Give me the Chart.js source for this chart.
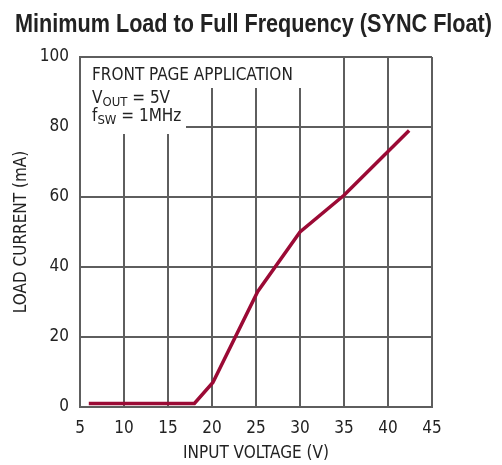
<!DOCTYPE html>
<html>
<head>
<meta charset="utf-8">
<script src="https://cdn.jsdelivr.net/npm/chart.js@4.4.0/dist/chart.umd.min.js"></script>
<style>
  html, body { margin: 0; padding: 0; background: #fff; }
  #wrap { width: 502px; height: 465px; }
</style>
</head>
<body>
<div id="wrap"><canvas id="myChart" width="502" height="465"></canvas></div>
<script>
var FONT = '"DejaVu Sans Condensed", "Liberation Sans", sans-serif';

// input voltage (V) and minimum load current (mA)
var inputVoltage = [6, 18, 20.1, 25.2, 30, 35, 40, 42.4];
var loadCurrent = [1, 1, 7, 33, 50, 60.5, 73, 79];

var xTicks = [5, 10, 15, 20, 25, 30, 35, 40, 45];
var yTicks = [0, 20, 40, 60, 80, 100];

var titleText = "Minimum Load to Full Frequency (SYNC Float)";
var xTitle = "INPUT VOLTAGE (V)";
var yTitle = "LOAD CURRENT (mA)";

var points = [];
for (var i = 0; i < inputVoltage.length; i++) {
	points.push({x: inputVoltage[i], y: loadCurrent[i]});
}

// title above plot + conditions box in the upper left corner
var extras = {
	id: "extras",
	afterDraw: function(chart) {
		var ctx = chart.ctx;
		var area = chart.chartArea;
		ctx.save();
		ctx.fillStyle = "#222";
		ctx.textAlign = "left";
		ctx.textBaseline = "alphabetic";
		// condensed bold title: squeeze Liberation Sans Bold to width
		ctx.font = "bold 25px 'Liberation Sans', sans-serif";
		var w = ctx.measureText(titleText).width;
		var sx = 477 / w;
		ctx.save();
		ctx.translate(15, 32);
		ctx.scale(sx, 1);
		ctx.fillText(titleText, 0, 0);
		ctx.restore();

		// white boxes hide the grid behind the notes
		ctx.fillStyle = "#fff";
		ctx.fillRect(area.left + 1, area.top + 1, 224, 30);
		ctx.fillRect(area.left + 1, area.top + 30, 105, 47);

		ctx.fillStyle = "#222";
		var x0 = 92;
		ctx.font = "17px " + FONT;
		ctx.fillText("FRONT PAGE APPLICATION", x0, 80);

		var x = x0;
		ctx.fillText("V", x, 103);
		x += ctx.measureText("V").width;
		ctx.font = "13px " + FONT;
		ctx.fillText("OUT", x, 106);
		x += ctx.measureText("OUT").width;
		ctx.font = "17px " + FONT;
		ctx.fillText(" = 5V", x, 103);

		x = x0;
		ctx.fillText("f", x, 121);
		x += ctx.measureText("f").width;
		ctx.font = "13px " + FONT;
		ctx.fillText("SW", x, 124);
		x += ctx.measureText("SW").width;
		ctx.font = "17px " + FONT;
		ctx.fillText(" = 1MHz", x, 121);
		ctx.restore();
	}
};

new Chart("myChart", {
	type: "line",
	data: {
		datasets: [
			{
				data: points,
				borderColor: "#9b0a35",
				borderWidth: 3.5,
				pointRadius: 0,
				fill: false,
				tension: 0,
			},
		],
	},
	options: {
		responsive: false,
		animation: false,
		events: [],
		layout: { padding: { top: 57, right: 70, left: 0, bottom: 0 } },
		plugins: {
			legend: { display: false },
			title: { display: false },
			tooltip: { enabled: false },
		},
		scales: {
			x: {
				type: "linear",
				min: 5,
				max: 45,
				afterBuildTicks: function(scale) {
					scale.ticks = xTicks.map(function(v) { return {value: v}; });
				},
				afterFit: function(scale) { scale.height = 58; },
				grid: { color: "#5e5e5e", lineWidth: 2, drawTicks: false },
				border: { color: "#5e5e5e", width: 2 },
				ticks: {
					padding: 11,
					color: "#222",
					font: { family: FONT, size: 17 },
					maxRotation: 0,
				},
				title: {
					display: true,
					text: xTitle,
					color: "#222",
					font: { family: FONT, size: 17 },
					padding: { top: 0, bottom: 1 },
				},
			},
			y: {
				min: 0,
				max: 100,
				afterBuildTicks: function(scale) {
					scale.ticks = yTicks.map(function(v) { return {value: v}; });
				},
				afterFit: function(scale) { scale.width = 80; },
				grid: { color: "#5e5e5e", lineWidth: 2, drawTicks: false },
				border: { color: "#5e5e5e", width: 2 },
				ticks: {
					padding: 11,
					color: "#222",
					font: { family: FONT, size: 17 },
				},
				title: {
					display: true,
					text: yTitle,
					color: "#222",
					font: { family: FONT, size: 17 },
					padding: { top: 11, bottom: 0 },
				},
			},
		},
	},
	plugins: [extras],
});
</script>
</body>
</html>
